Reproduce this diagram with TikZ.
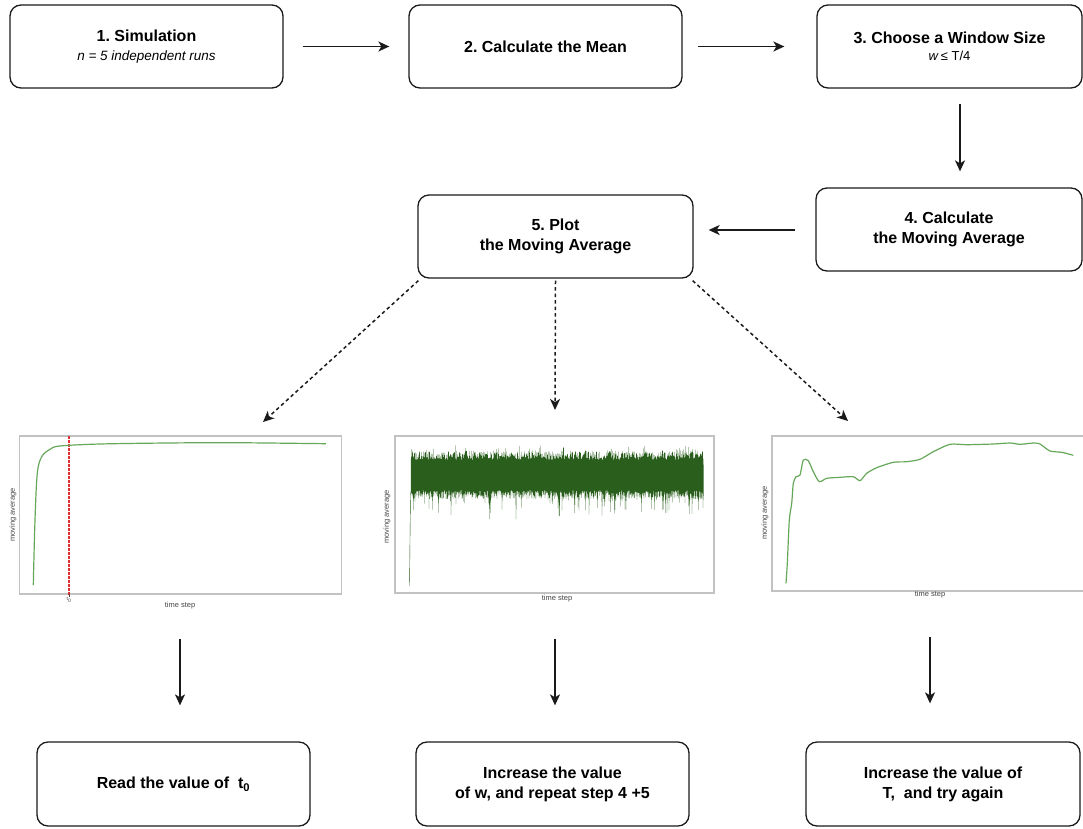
\documentclass[tikz,border=0pt]{standalone}
\usepackage{fontspec}
\setmainfont{Liberation Sans}
\usetikzlibrary{arrows.meta}

\definecolor{ink}{HTML}{1A1A1A}
\definecolor{framegray}{HTML}{C2C2C2}
\definecolor{labelgray}{HTML}{444444}
\definecolor{lightgreen}{HTML}{66A85A}
\definecolor{darkgreen}{HTML}{2A5E1C}
\definecolor{tzero}{HTML}{E03030}

\newcommand{\titlefont}{\fontsize{16}{20}\selectfont\bfseries}
\newcommand{\subfont}{\fontsize{13.5}{18}\selectfont\mdseries}
\newcommand{\axisfont}{\fontsize{7.5}{8}\selectfont}

\begin{document}
\frenchspacing
\begin{tikzpicture}[x=1pt,y=-1pt,
  stepbox/.style={draw=ink, line width=1.3pt, rounded corners=11pt,
    minimum width=273pt, minimum height=83pt, align=center,
    font=\titlefont, inner sep=0pt},
  flow/.style={draw=ink, line width=1.5pt,
    -{Stealth[length=11pt,width=10pt,inset=3pt]}},
  choice/.style={flow, dash pattern=on 3.5pt off 3pt},
  plotframe/.style={draw=framegray, line width=1.2pt, inner sep=0pt},
  axislabel/.style={font=\axisfont, text=labelgray, inner sep=0pt},
  curve/.style={line width=1.2pt, line join=round}
]
\useasboundingbox (0,0) rectangle (1083,828);

% ---- upper row of steps ----
\node[stepbox] (b1) at (146.5,46.5)
  {1. Simulation\\[-1pt]{\subfont\itshape n = 5 independent runs}};
\node[stepbox] (b2) at (545.5,46.5) {2. Calculate the Mean};
\node[stepbox, minimum width=265pt] (b3) at (949.5,46.5)
  {3. Choose a Window Size\\[-3pt]{\subfont\fontsize{13}{16}\selectfont\textit{w}\,≤ T/4}};
\node[stepbox, minimum width=266pt] (b4) at (949,229.5)
  {4. Calculate\\the Moving Average};
\node[stepbox, minimum width=275pt] (b5) at (555.5,236.5)
  {5. Plot\\the Moving Average};

\draw[flow, shorten <=19pt, shorten >=19pt] (b1) -- (b2);
\draw[flow, shorten <=15pt, shorten >=32pt] (b2) -- (b3);
\draw[flow, shorten <=15pt, shorten >=16pt] (b3.south -| 960,0) -- (b4.north -| 960,0);
\draw[flow, shorten <=20pt, shorten >=15pt] (b4.west |- 0,230) -- (b5.east |- 0,230);

% ---- three possible outcomes of the plot ----
\node[plotframe, minimum width=322pt, minimum height=158pt] (p1) at (180.5,515) {};
\node[plotframe, minimum width=319pt, minimum height=157pt] (p2) at (554.5,514.5) {};
\node[plotframe, minimum width=316pt, minimum height=155pt] (p3) at (930,513.5) {};

\coordinate (t1) at (263,422);
\coordinate (t2) at (555,410);
\coordinate (t3) at (848,421);
\draw[choice] (b5.south west) ++(1,2) -- (t1);
\draw[choice] (b5.south) ++(0,2) -- (t2);
\draw[choice] (b5.south east) ++(-1,2) -- (t3);

% converged curve with the t0 marker
\draw[tzero, line width=1.2pt, dash pattern=on 3pt off 1pt] (69,436) -- (69,596);
\draw[labelgray, line width=0.6pt] (69,594) -- (69,597);
\node[axislabel, font=\fontsize{5}{5}\selectfont] (t0tick) at (69,600) {t\textsubscript{0}};
\draw[lightgreen, curve] plot[smooth, tension=0.55] coordinates {
  (33.3,585) (35,520) (37.3,473.3) (41.7,456.7) (50,449.3) (60,446)
  (100,444) (166.7,443) (233.3,442.7) (326,443.7)};
\node[axislabel] (x1) at (180,606) {time step};
\node[axislabel, rotate=90] (y1) at (13,515) {moving average};

% noisy curve: window too small (alternating up/down swings)
\pgfmathsetseed{7}
\draw[darkgreen, line width=0.4pt, line join=round]
  (409.5,586) -- (410,540) -- (410.5,495) --
  plot[domain=0:1170, samples=1171, variable=\t]
   ({411+\t*0.25}, {475 + (1-2*mod(round(\t),2))*(15+9*rnd + (14+7*(1-2*mod(round(\t),2)))*8*max(0,rnd-0.875))});
\node[axislabel] (x2) at (557,599) {time step};
\node[axislabel, rotate=90] (y2) at (387,517) {moving average};

% curve that has not yet settled: run too short
\draw[lightgreen, curve] plot[smooth, tension=0.4] coordinates {
  (786,583.3) (787.3,563.3) (789.3,520) (791.7,503.3) (793.3,483.3)
  (796,476.7) (800,475) (803.3,460) (808.3,460.7) (813.3,471.7)
  (819.3,481.7) (826.7,478.3) (840,477.3) (853.3,476.7) (860,480.7)
  (866.7,473.3) (876.7,467.7) (893.3,462.3) (906.7,461.7) (920,459.3)
  (933.3,451.7) (950,444.3) (966.7,444.7) (993.3,444) (1010,443)
  (1020,444.3) (1033.3,443) (1040,444) (1050,451) (1061.7,452.3)
  (1073.3,455.3)};
\node[axislabel] (x3) at (930,595) {time step};
\node[axislabel, rotate=90] (y3) at (765,513) {moving average};

% ---- conclusions ----
\node[stepbox, minimum height=84pt] (b6) at (173.5,784) {Read the value of~~t\textsubscript{0}};
\node[stepbox, minimum height=84pt] (b7) at (552.5,784)
  {Increase the value\\of w, and repeat step 4 +5};
\node[stepbox, minimum height=84pt, minimum width=274pt] (b8) at (943,784)
  {Increase the value of\\T,~~and try again};

\draw[flow, shorten <=44pt, shorten >=36pt] (p1.south -| 180,0) -- (b6.north -| 180,0);
\draw[flow, shorten <=45pt, shorten >=36pt] (p2.south -| 555,0) -- (b7.north -| 555,0);
\draw[flow, shorten <=45pt, shorten >=38pt] (p3.south -| 930,0) -- (b8.north -| 930,0);
\end{tikzpicture}
\end{document}
